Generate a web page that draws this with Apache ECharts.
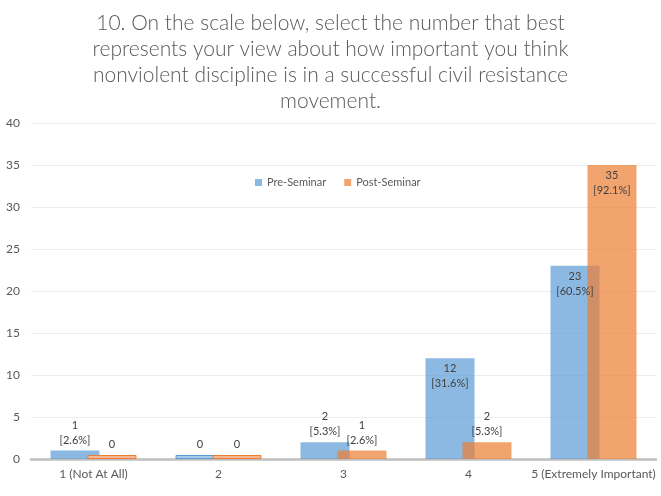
<!DOCTYPE html>
<html>
<head>
<meta charset="utf-8">
<script src="https://cdn.jsdelivr.net/npm/echarts@6/dist/echarts.min.js"></script>
<style>html,body{margin:0;padding:0;background:#fff}#c{width:661px;height:496px}</style>
</head>
<body>
<div id="c"></div>
<script>
const titleText = "10. On the scale below, select the number that best\nrepresents your view about how important you think\nnonviolent discipline is in a successful civil resistance\nmovement.";
const categories = ["1 (Not At All)", "2", "3", "4", "5 (Extremely Important)"];
const seriesNames = ["Pre-Seminar", "Post-Seminar"];
const preValues = [1, 0, 2, 12, 23];
const postValues = [0, 0, 1, 2, 35];
const prePct = ["2.6", null, "5.3", "31.6", "60.5"];
const postPct = [null, null, "2.6", "5.3", "92.1"];
const yTicks = [0, 5, 10, 15, 20, 25, 30, 35, 40];

const FONT = "Lato";
const fills = ["rgba(91,155,213,0.7)", "rgba(237,125,49,0.7)"];
const borders = ["#5B9BD5", "#ED7D31"];
const zeroFill = ["#A9CBEA", "#F6B996"];

function buildData(vals, pcts, idx) {
  return vals.map((v, i) => {
    const d = { value: v, pct: pcts[i] };
    d.label = { position: v >= 5 ? "insideTop" : "top" };
    if (v === 0) {
      d.itemStyle = { color: zeroFill[idx], borderColor: borders[idx], borderWidth: 1 };
    }
    return d;
  });
}

function labelFmt(p) {
  if (p.value === 0 || !p.data.pct) return String(p.value);
  return p.value + "\n[" + p.data.pct + "%]";
}

const labelStyle = { show: true, formatter: labelFmt, fontFamily: FONT, fontSize: 11, color: "#404040", lineHeight: 15, distance: 3 };

const chart = echarts.init(document.getElementById("c"), null, { renderer: "canvas" });
chart.setOption({
  animation: false,
  textStyle: { fontFamily: FONT },
  title: {
    text: titleText,
    left: "center",
    top: 5,
    textStyle: { fontFamily: FONT, fontSize: 21, fontWeight: 300, color: "#595959", lineHeight: 26 }
  },
  legend: {
    data: seriesNames,
    top: 172,
    left: 250,
    icon: "rect",
    itemWidth: 7,
    itemHeight: 7,
    itemGap: 18,
    textStyle: { fontFamily: FONT, fontSize: 11, color: "#595959" }
  },
  grid: { left: 31, right: 5, top: 123, bottom: 37, containLabel: false },
  xAxis: {
    type: "category",
    data: categories,
    axisLine: { lineStyle: { color: "#BFBFBF", width: 2.5 } },
    axisTick: { show: false },
    axisLabel: { fontFamily: FONT, fontSize: 12, color: "#595959", margin: 9, interval: 0 }
  },
  yAxis: {
    type: "value",
    min: yTicks[0],
    max: yTicks[yTicks.length - 1],
    interval: yTicks[1] - yTicks[0],
    axisLine: { show: false },
    axisTick: { show: false },
    splitLine: { lineStyle: { color: "#EDEDED", width: 1 } },
    axisLabel: { fontFamily: FONT, fontSize: 12, color: "#595959", margin: 11 }
  },
  series: [
    {
      name: seriesNames[0],
      type: "bar",
      data: buildData(preValues, prePct, 0),
      barWidth: 49,
      barGap: "-24.5%",
      barMinHeight: 4,
      itemStyle: { color: fills[0] },
      label: labelStyle
    },
    {
      name: seriesNames[1],
      type: "bar",
      data: buildData(postValues, postPct, 1),
      barWidth: 49,
      barGap: "-24.5%",
      barMinHeight: 4,
      itemStyle: { color: fills[1] },
      label: labelStyle
    }
  ]
});
</script>
</body>
</html>
